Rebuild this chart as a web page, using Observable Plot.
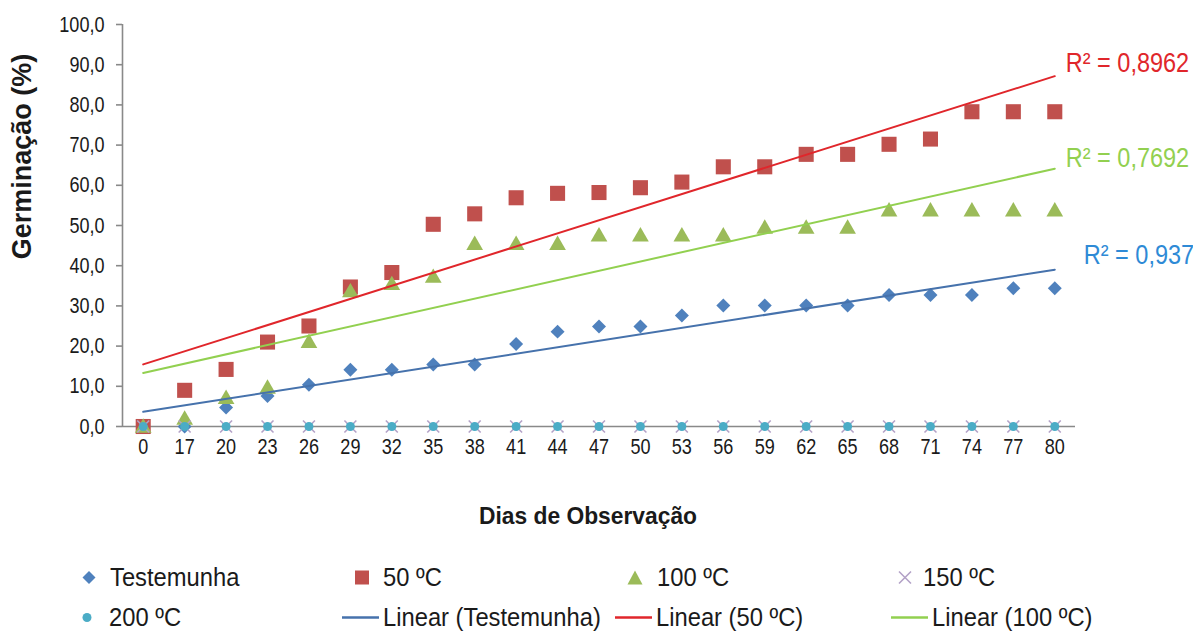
<!DOCTYPE html>
<html>
<head>
<meta charset="utf-8">
<script src="https://cdn.jsdelivr.net/npm/d3@7"></script>
<script src="https://cdn.jsdelivr.net/npm/@observablehq/plot@0.6"></script>
<style>
  html, body { margin: 0; padding: 0; background: #fff; }
  #chart { width: 1193px; height: 545px; }
  .legend { position: relative; width: 1193px; height: 87px; font-family: "Liberation Sans", Arial, sans-serif; font-size: 25px; color: #1a1a1a; }
  .legend .item { position: absolute; display: flex; align-items: center; white-space: nowrap; transform: translateY(-50%); }
  .legend svg { display: block; }
  .legend span { display: inline-block; transform: scaleX(0.95); transform-origin: left center; }
</style>
</head>
<body>
<div id="chart"></div>
<div class="legend" id="legend"></div>
<script>
// ---- data ----
const days = [0, 17, 20, 23, 26, 29, 32, 35, 38, 41, 44, 47, 50, 53, 56, 59, 62, 65, 68, 71, 74, 77, 80];
const testemunha = [0, 0, 4.7, 7.6, 10.4, 14.1, 14.1, 15.4, 15.4, 20.5, 23.6, 24.9, 24.9, 27.6, 30.1, 30.1, 30.1, 30.1, 32.7, 32.7, 32.7, 34.4, 34.4];
const t50 = [0, 9.0, 14.2, 21.0, 25.0, 34.7, 38.3, 50.3, 52.9, 56.9, 58.0, 58.2, 59.4, 60.8, 64.6, 64.6, 67.7, 67.7, 70.2, 71.5, 78.3, 78.3, 78.3];
const t100 = [0, 2.0, 7.2, 9.7, 21.1, 33.7, 35.5, 37.3, 45.5, 45.5, 45.5, 47.6, 47.6, 47.6, 47.6, 49.5, 49.5, 49.5, 53.8, 53.8, 53.8, 53.8, 53.8];
const t150 = [0, 0, 0, 0, 0, 0, 0, 0, 0, 0, 0, 0, 0, 0, 0, 0, 0, 0, 0, 0, 0, 0, 0];
const t200 = [0, 0, 0, 0, 0, 0, 0, 0, 0, 0, 0, 0, 0, 0, 0, 0, 0, 0, 0, 0, 0, 0, 0];
const r2Labels = ["R² = 0,937", "R² = 0,8962", "R² = 0,7692"];
const yTicks = [0, 10, 20, 30, 40, 50, 60, 70, 80, 90, 100];
const seriesNames = ["Testemunha", "50 ºC", "100 ºC", "150 ºC", "200 ºC"];
const trendNames = ["Linear (Testemunha)", "Linear (50 ºC)", "Linear (100 ºC)"];
const yTitle = "Germinação (%)";
const xTitle = "Dias de Observação";

// ---- styles ----
const C = {
  test: "#4F81BD", t50: "#C0504D", t100: "#9BBB59", t150: "#B3A2C7", t200: "#4BACC6",
  trTest: "#4672AC", tr50: "#E0262B", tr100: "#92D050",
  lblTest: "#2E8AD6", lbl50: "#E0262B", lbl100: "#92D050"
};
const font = '"Liberation Sans", Arial, sans-serif';

const rows = (arr) => arr.map((v, i) => ({i, v}));
const dTest = rows(testemunha), d50 = rows(t50), d100 = rows(t100), d150 = rows(t150), d200 = rows(t200);

// end value of the least-squares line (same fit as Plot.linearRegressionY), used to anchor R² labels
function regEnd(arr) {
  const n = arr.length, xs = d3.range(n);
  const mx = d3.mean(xs), my = d3.mean(arr);
  const b = d3.sum(xs, (x, k) => (x - mx) * (arr[k] - my)) / d3.sum(xs, x => (x - mx) ** 2);
  return my + b * (n - 1 - mx);
}
const last = days.length - 1;

const fmt = d => d.toFixed(1).replace(".", ",");
const r2Text = (arr, text, color, dx, dy) =>
  Plot.text([{i: last, v: regEnd(arr), text}], {x: "i", y: "v", text: "text", fill: color, dx, dy, textAnchor: "start", fontSize: 27, fontFamily: font});

const plot = Plot.plot({
  width: 1193,
  height: 545,
  marginLeft: 122,
  marginRight: 118,
  marginTop: 24,
  marginBottom: 119,
  style: {fontFamily: font, fontSize: "22px", color: "#1a1a1a", background: "#fff"},
  x: {domain: [-0.5, last + 0.5], type: "linear"},
  y: {domain: [0, 100]},
  marks: [
    Plot.ruleX([-0.5], {stroke: "#898989", strokeWidth: 1.6}),
    Plot.axisY({ticks: yTicks, tickFormat: fmt, tickSize: 6, tickPadding: 12, stroke: "#898989", strokeWidth: 1.6, fontSize: 22, label: null}),
    Plot.axisX({ticks: d3.range(days.length), tickFormat: i => days[i], tickSize: 0, tickPadding: 12, fontSize: 22, label: null}),
    Plot.ruleY([0], {stroke: "#898989", strokeWidth: 1.6}),
    Plot.dot(dTest, {x: "i", y: "v", symbol: "diamond2", r: 6.3, fill: C.test, stroke: "none"}),
    Plot.dot(d50, {x: "i", y: "v", symbol: "square", r: 8.5, fill: C.t50, stroke: "none"}),
    Plot.dot(d100, {x: "i", y: "v", symbol: "triangle", r: 6.2, fill: C.t100, stroke: "none", dy: 1.5}),
    Plot.dot(d150, {x: "i", y: "v", symbol: "times", r: 5.5, stroke: C.t150, strokeWidth: 1.6}),
    Plot.dot(d200, {x: "i", y: "v", symbol: "circle", r: 4.5, fill: C.t200, stroke: "none"}),
    Plot.linearRegressionY(dTest, {x: "i", y: "v", stroke: C.trTest, strokeWidth: 2, ci: 0}),
    Plot.linearRegressionY(d50, {x: "i", y: "v", stroke: C.tr50, strokeWidth: 2, ci: 0}),
    Plot.linearRegressionY(d100, {x: "i", y: "v", stroke: C.tr100, strokeWidth: 2, ci: 0}),
    r2Text(testemunha, r2Labels[0], C.lblTest, 29, -14),
    r2Text(t50, r2Labels[1], C.lbl50, 11, -13),
    r2Text(t100, r2Labels[2], C.lbl100, 11, -10),
    Plot.text([yTitle], {frameAnchor: "left", textAnchor: "middle", lineAnchor: "middle", rotate: -90, dx: -100, dy: -69, fontSize: 27, fontWeight: "bold", fontFamily: font, fill: "#1a1a1a"}),
    Plot.text([xTitle], {frameAnchor: "bottom", textAnchor: "middle", lineAnchor: "middle", dx: -11, dy: 90, fontSize: 24, fontWeight: "bold", fontFamily: font, fill: "#1a1a1a"})
  ]
});
document.getElementById("chart").appendChild(plot);

// horizontally condense texts to mimic the reference's narrow lettering
function condense(el, k) {
  const len = el.getComputedTextLength();
  if (len > 0) {
    el.setAttribute("textLength", (len * k).toFixed(1));
    el.setAttribute("lengthAdjust", "spacingAndGlyphs");
  }
}
function squeeze(el, k) {
  const tr = el.getAttribute("transform") || "";
  el.setAttribute("transform", `${tr} scale(${k},1)`);
}
plot.querySelectorAll('g[aria-label="y-axis tick label"] text, g[aria-label="x-axis tick label"] text').forEach(t => condense(t, 0.82));
plot.querySelectorAll('g[aria-label="text"] text').forEach(t => {
  if (t.textContent.startsWith("R²")) squeeze(t, 0.87);
  else if (t.textContent === xTitle) condense(t, 0.95);
});

// ---- legend ----
const leg = document.getElementById("legend");
const sym = {
  diamond: `<svg width="16" height="16" viewBox="-8 -8 16 16"><path d="M0,-6.5L6.5,0L0,6.5L-6.5,0Z" fill="${C.test}"/></svg>`,
  square: `<svg width="16" height="16" viewBox="-8 -8 16 16"><rect x="-7" y="-7" width="14" height="14" fill="${C.t50}"/></svg>`,
  triangle: `<svg width="16" height="16" viewBox="-8 -8 16 16"><path d="M0,-7L7.5,7L-7.5,7Z" fill="${C.t100}"/></svg>`,
  times: `<svg width="16" height="16" viewBox="-8 -8 16 16"><path d="M-6,-6L6,6M-6,6L6,-6" stroke="${C.t150}" stroke-width="1.6"/></svg>`,
  circle: `<svg width="16" height="16" viewBox="-8 -8 16 16"><circle r="4.5" fill="${C.t200}"/></svg>`,
  line: c => `<svg width="37" height="6" viewBox="0 0 37 6"><line x1="0" y1="3" x2="37" y2="3" stroke="${c}" stroke-width="2.5"/></svg>`
};
const legendItems = [
  {left: 81, top: 32, gap: 13, s: sym.diamond, t: seriesNames[0]},
  {left: 354, top: 32, gap: 13, s: sym.square, t: seriesNames[1]},
  {left: 627, top: 32, gap: 14, s: sym.triangle, t: seriesNames[2]},
  {left: 897, top: 32, gap: 10, s: sym.times, t: seriesNames[3]},
  {left: 79, top: 72, gap: 14, s: sym.circle, t: seriesNames[4]},
  {left: 342, top: 72, gap: 4, s: sym.line(C.trTest), t: trendNames[0]},
  {left: 615, top: 72, gap: 4, s: sym.line(C.tr50), t: trendNames[1]},
  {left: 891, top: 72, gap: 4, s: sym.line(C.tr100), t: trendNames[2]}
];
for (const it of legendItems) {
  const el = document.createElement("div");
  el.className = "item";
  el.style.left = it.left + "px";
  el.style.top = it.top + "px";
  el.innerHTML = it.s + `<span style="margin-left:${it.gap}px">${it.t}</span>`;
  leg.appendChild(el);
}
</script>
</body>
</html>
